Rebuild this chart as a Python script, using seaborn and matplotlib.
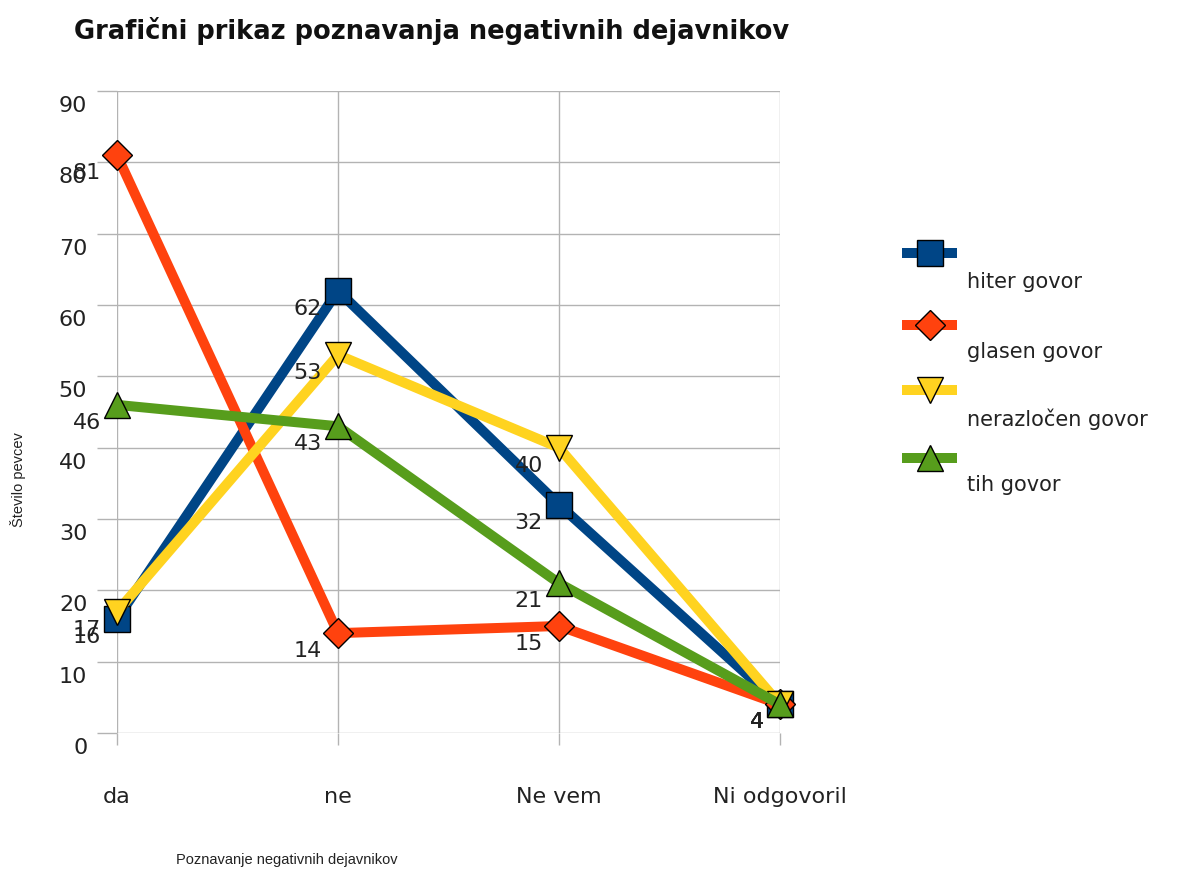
import matplotlib
matplotlib.use("Agg")
import matplotlib.pyplot as plt
import matplotlib.transforms as mtransforms
from matplotlib.lines import Line2D
import seaborn as sns
import pandas as pd

# ---- data ----
categories = ["da", "ne", "Ne vem", "Ni odgovoril"]
series_names = ["hiter govor", "glasen govor", "nerazločen govor", "tih govor"]
hiter = [16, 62, 32, 4]
glasen = [81, 14, 15, 4]
nerazlocen = [17, 53, 40, 4]
tih = [46, 43, 21, 4]
y_ticks = [0, 10, 20, 30, 40, 50, 60, 70, 80, 90]

title = "Grafični prikaz poznavanja negativnih dejavnikov"
x_label = "Poznavanje negativnih dejavnikov"
y_label = "Število pevcev"

# ---- styling ----
colors = ["#004586", "#ff420e", "#ffd320", "#579d1c"]
markers = ["s", "D", "v", "^"]
marker_sizes = [19, 15, 19, 19]
grid_color = "#b3b3b3"
text_color = "#222222"
wide_font = ["DejaVu Sans"]
narrow_font = ["Liberation Sans", "DejaVu Sans"]

sns.set_theme(style="white")
plt.rcParams["font.family"] = wide_font

W, H = 1187, 885
fig = plt.figure(figsize=(W / 100, H / 100), dpi=100)
fig.patch.set_facecolor("white")

ax_left, ax_right, ax_top, ax_bottom = 117, 780, 91, 733
ax = fig.add_axes([ax_left / W, 1 - ax_bottom / H,
                   (ax_right - ax_left) / W, (ax_bottom - ax_top) / H])
ax.set_facecolor("white")

positions = list(range(len(categories)))
frame = pd.DataFrame({
    "pos": positions * len(series_names),
    "value": hiter + glasen + nerazlocen + tih,
    "series": [s for s in series_names for _ in categories],
})

for name, color, marker, ms in zip(series_names, colors, markers, marker_sizes):
    sub = frame[frame["series"] == name]
    sns.lineplot(data=sub, x="pos", y="value", color=color, linewidth=7.2,
                 marker=marker, markersize=ms, markeredgecolor="black",
                 markeredgewidth=1.0, markerfacecolor=color, sort=False,
                 clip_on=False, ax=ax, legend=False, zorder=3)
    for xp, v in zip(sub["pos"], sub["value"]):
        ax.annotate(str(v), (xp, v), xytext=(-16, -8), textcoords="offset pixels",
                    ha="right", va="top", fontsize=16, color=text_color, zorder=5)

ax.set_xlim(0, 3)
ax.set_ylim(0, 90)
ax.set_xticks(positions)
ax.set_xticklabels(categories)
ax.set_yticks(y_ticks)
ax.set_yticklabels([str(t) for t in y_ticks])
ax.set_xlabel("")
ax.set_ylabel("")

ax.grid(True, color=grid_color, linewidth=1.0, zorder=0)
ax.set_axisbelow(True)
for sp in ax.spines.values():
    sp.set_visible(False)

ax.tick_params(axis="y", length=14.4, width=1.0, color=grid_color, pad=7,
               labelsize=16, labelcolor=text_color, left=True, direction="out")
ax.tick_params(axis="x", length=8.6, width=1.0, color=grid_color, pad=30,
               labelsize=16, labelcolor=text_color, bottom=True, direction="out")

# y tick labels sit slightly below their gridlines
shift = mtransforms.ScaledTranslation(0, -13 / 100, fig.dpi_scale_trans)
for lab in ax.get_yticklabels():
    lab.set_transform(lab.get_transform() + shift)

# titles
fig.text(74 / W, 1 - 31 / H, title, fontsize=18.5, fontweight="bold",
         color="#111111", ha="left", va="center", family=wide_font)
fig.text(287 / W, 1 - 860 / H, x_label, fontsize=10.5, color=text_color,
         ha="center", va="center", family=narrow_font)
fig.text(18 / W, 1 - 480 / H, y_label, fontsize=10.5, color=text_color,
         rotation=90, ha="center", va="center", family=narrow_font)

# legend: handle with its label just below
leg_handle_y = [253, 325, 390, 458]
leg_text_y = [282, 352, 419, 485]
for name, color, marker, ms, hy, ty in zip(series_names, colors, markers,
                                            marker_sizes, leg_handle_y, leg_text_y):
    yf = 1 - hy / H
    fig.add_artist(Line2D([902 / W, 957 / W], [yf, yf], color=color,
                          linewidth=7.2, solid_capstyle="butt"))
    fig.add_artist(Line2D([929.5 / W], [yf], color=color, marker=marker,
                          markersize=ms, markeredgecolor="black",
                          markeredgewidth=1.0, linestyle="none"))
    fig.text(967 / W, 1 - ty / H, name, fontsize=15, color=text_color,
             ha="left", va="center", family=wide_font)

fig.savefig("out.png", dpi=100, facecolor="white")
